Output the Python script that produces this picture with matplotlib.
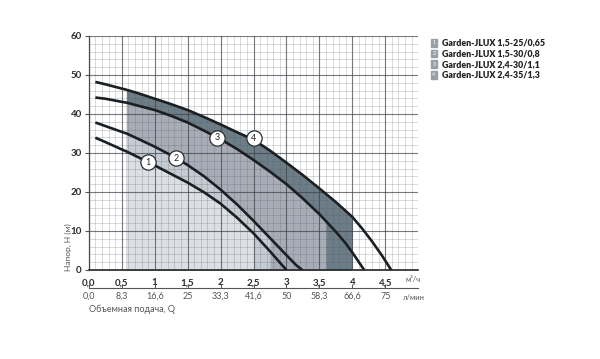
import matplotlib
matplotlib.use('Agg')
import matplotlib.pyplot as plt
from matplotlib.ticker import MultipleLocator
import numpy as np

plt.rcParams['font.family'] = ['Lato', 'Open Sans', 'DejaVu Sans']

# pump curves: Q in m3/h, H in m
q1 = [0.1, 0.25, 0.5, 0.57, 0.75, 1.0, 1.25, 1.5, 1.75, 2.0, 2.25, 2.5, 2.75, 2.9, 3.0]
h1 = [33.9, 32.8, 30.9, 30.4, 28.9, 26.8, 24.6, 22.4, 19.9, 17.0, 13.4, 9.4, 4.8, 1.9, 0.0]

q2 = [0.1, 0.25, 0.5, 0.57, 0.75, 1.0, 1.25, 1.5, 1.75, 2.0, 2.25, 2.5, 2.75, 3.0, 3.15, 3.24]
h2 = [37.8, 36.9, 35.4, 35.0, 33.6, 31.6, 29.4, 26.9, 24.0, 20.6, 16.8, 12.6, 8.2, 3.8, 1.2, 0.0]

q3 = [0.1, 0.25, 0.5, 0.57, 0.75, 1.0, 1.25, 1.5, 1.75, 2.0, 2.25, 2.5, 2.75, 3.0, 3.25, 3.5,
      3.6, 3.75, 3.9, 4.0, 4.1, 4.18]
h3 = [44.2, 43.9, 43.1, 42.9, 42.1, 41.0, 39.5, 37.8, 35.7, 33.5, 31.0, 28.2, 25.2, 22.0, 18.3, 14.3,
      12.5, 9.8, 6.8, 4.5, 2.0, 0.0]

q4 = [0.1, 0.25, 0.5, 0.57, 0.75, 1.0, 1.25, 1.5, 1.75, 2.0, 2.25, 2.5, 2.75, 3.0, 3.25, 3.5,
      3.75, 4.0, 4.15, 4.3, 4.45, 4.59]
h4 = [48.2, 47.6, 46.5, 46.2, 45.3, 43.9, 42.5, 41.0, 39.2, 37.3, 35.3, 33.4, 30.6, 27.5, 24.3, 20.9,
      17.4, 13.6, 10.6, 7.3, 3.7, 0.0]

# working range of every pump (shaded)
ranges = [(0.57, 2.5), (0.57, 2.75), (0.57, 3.6), (0.57, 4.0)]
fill_cols = ['#dcdfe3', '#c4cbd2', '#a8acb6', '#6d7d87']

# numbered markers on the curves
marks = [(0.9, 27.6), (1.32, 28.6), (1.95, 33.9), (2.5, 33.8)]

q_ticks = [0, 0.5, 1, 1.5, 2, 2.5, 3, 3.5, 4, 4.5]
q_labels = ['0,0', '0,5', '1', '1,5', '2', '2,5', '3', '3,5', '4', '4,5']
lmin_labels = ['0,0', '8,3', '16,6', '25', '33,3', '41,6', '50', '58,3', '66,6', '75']

names = ['Garden-JLUX 1,5-25/0,65', 'Garden-JLUX 1,5-30/0,8',
         'Garden-JLUX 2,4-30/1,1', 'Garden-JLUX 2,4-35/1,3']

fig = plt.figure(figsize=(6, 3.59), dpi=100)
ax = fig.add_axes([0.148, 0.248, 0.549, 0.652])

curves = [(q1, h1), (q2, h2), (q3, h3), (q4, h4)]

# shading: biggest pump first, smaller ones painted over it
for i in [3, 2, 1, 0]:
    q = np.array(curves[i][0])
    h = np.array(curves[i][1])
    lo, hi = ranges[i]
    m = (q >= lo - 1e-9) & (q <= hi + 1e-9)
    ax.fill_between(q[m], 0, h[m], color=fill_cols[i], lw=0, zorder=1)

for q, h in curves:
    ax.plot(q, h, color='#1b1f22', lw=1.9, zorder=4, solid_capstyle='butt',
            solid_joinstyle='round')

for i, (x, y) in enumerate(marks):
    ax.plot(x, y, 'o', ms=11, mfc='white', mec='#2a2e31', mew=0.9, zorder=5)
    ax.text(x, y, str(i + 1), ha='center', va='center', fontsize=6.5,
            color='#222222', zorder=6)

ax.set_xlim(0, 5)
ax.set_ylim(0, 60)
ax.xaxis.set_major_locator(MultipleLocator(0.5))
ax.xaxis.set_minor_locator(MultipleLocator(0.1))
ax.yaxis.set_major_locator(MultipleLocator(10))
ax.yaxis.set_minor_locator(MultipleLocator(2))
ax.grid(which='major', color='#3c4248', alpha=0.7, lw=0.8)
ax.grid(which='minor', color='#50565c', alpha=0.3, lw=0.5)
ax.set_axisbelow(False)

ax.set_xticks(q_ticks)
ax.set_xticklabels(q_labels)
ax.tick_params(axis='x', which='major', length=0, pad=6, labelsize=7,
               labelcolor='#2b2b2b')
ax.tick_params(axis='y', which='major', length=3, width=0.8, color='#555555',
               pad=2, labelsize=7, labelcolor='#2b2b2b')
ax.tick_params(which='minor', length=0)
for lab in ax.get_xticklabels() + ax.get_yticklabels():
    lab.set_fontweight('bold')

for s in ['top', 'right']:
    ax.spines[s].set_visible(False)
ax.spines['left'].set_color('#555555')
ax.spines['left'].set_linewidth(0.9)
ax.spines['bottom'].set_color('#222222')
ax.spines['bottom'].set_linewidth(1.2)

# second scale in l/min
sec = ax.secondary_xaxis(-0.077)
sec.set_xticks(q_ticks)
sec.set_xticklabels(lmin_labels)
sec.tick_params(length=3, width=0.7, direction='in', color='#555555',
                labelsize=6.5, labelcolor='#555555', pad=3)
sec.spines['bottom'].set_color('#555555')
sec.spines['bottom'].set_linewidth(0.8)

fig.text(89 / 600, 1 - 309 / 359, 'Объемная подача, Q', fontsize=6.5,
         color='#555555', ha='left', va='center')
fig.text(68 / 600, 1 - 271 / 359, 'Напор, H (м)', fontsize=6,
         color='#555555', rotation=90, ha='center', va='bottom')
fig.text(413 / 600, 1 - 279 / 359, 'м³/ч', fontsize=5.5, color='#555555',
         ha='center', va='center')
fig.text(414 / 600, 1 - 298 / 359, 'л/мин', fontsize=5.5, color='#555555',
         ha='center', va='center')

for i, name in enumerate(names):
    y = 1 - (43 + 10.6 * i) / 359
    fig.text(434 / 600, y, str(i + 1), fontsize=4, color='#ffffff',
             ha='center', va='center',
             bbox=dict(boxstyle='square,pad=0.25', fc='#9a9fa4', ec='#9a9fa4'))
    fig.text(442 / 600, y, name, fontsize=6.3, fontweight='heavy',
             color='#222222', ha='left', va='center')

fig.savefig('out.png', dpi=100)
